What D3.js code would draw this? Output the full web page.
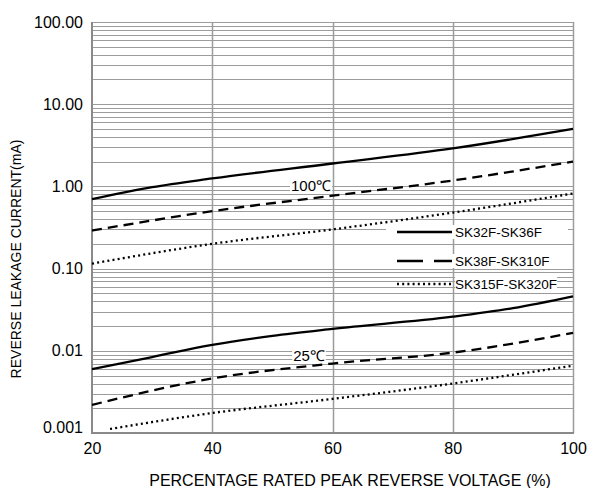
<!DOCTYPE html>
<html>
<head>
<meta charset="utf-8">
<script src="https://cdn.jsdelivr.net/npm/d3@7"></script>
<style>
  body { margin: 0; background: #fff; }
  text { font-family: "Liberation Sans", Arial, sans-serif; fill: #000; }
</style>
</head>
<body>
<svg id="chart" width="591" height="488"></svg>
<script>
// ---- data ----
var xTicks = [20, 40, 60, 80, 100];
var yTicks = [0.001, 0.01, 0.1, 1, 10, 100];
var yTickLabels = ["0.001", "0.01", "0.10", "1.00", "10.00", "100.00"];

var solid100X = [20, 30, 40, 60, 80, 100];
var solid100Y = [0.70, 0.98, 1.25, 1.9, 2.9, 5.0];
var dash100X = [20, 40, 60, 80, 100];
var dash100Y = [0.29, 0.50, 0.77, 1.18, 2.0];
var dot100X = [20, 40, 60, 80, 100];
var dot100Y = [0.115, 0.20, 0.30, 0.48, 0.82];

var solid25X = [20, 30, 40, 50, 60, 80, 90, 100];
var solid25Y = [0.006, 0.0084, 0.0118, 0.0152, 0.0185, 0.026, 0.033, 0.046];
var dash25X = [20, 40, 60, 80, 100];
var dash25Y = [0.0022, 0.0046, 0.0070, 0.0095, 0.0165];
var dot25X = [23, 40, 60, 80, 100];
var dot25Y = [0.00112, 0.00175, 0.0026, 0.0040, 0.0066];

var legendNames = ["SK32F-SK36F", "SK38F-SK310F", "SK315F-SK320F"];

(function() {

    var svg = d3.select("#chart");

    var x = d3.scaleLinear().domain([20, 100]).range([92, 573]);
    var y = d3.scaleLog().domain([0.001, 100]).range([433, 22]);

    var grid = svg.append("g");

    /* minor + major horizontal lines, every 1..9 of each decade */
    var hLines = [];
    yTicks.forEach(function(d) {
        if (d === 100) { hLines.push(d); return; }
        for (var k = 1; k < 10; k++) hLines.push(d * k);
    });
    grid.selectAll("line.h")
        .data(hLines)
        .enter().append("line")
        .attr("class", "h")
        .attr("x1", x(20)).attr("x2", x(100))
        .attr("y1", function(d) { return Math.round(y(d)) + 0.5; })
        .attr("y2", function(d) { return Math.round(y(d)) + 0.5; })
        .style("stroke", "#9c9c9c")
        .style("stroke-width", 1.2);

    grid.selectAll("line.v")
        .data(xTicks.slice(1))
        .enter().append("line")
        .attr("class", "v")
        .attr("x1", function(d) { return Math.round(x(d)) + 0.5; })
        .attr("x2", function(d) { return Math.round(x(d)) + 0.5; })
        .attr("y1", y(100)).attr("y2", y(0.001))
        .style("stroke", "#9c9c9c")
        .style("stroke-width", 1.5);

    // left and bottom frame
    grid.append("line")
        .attr("x1", x(20)).attr("x2", x(20))
        .attr("y1", y(100)).attr("y2", y(0.001) + 1)
        .style("stroke", "#8a8a8a").style("stroke-width", 2);
    grid.append("line")
        .attr("x1", x(20) - 1).attr("x2", x(100) + 1)
        .attr("y1", y(0.001)).attr("y2", y(0.001))
        .style("stroke", "#8a8a8a").style("stroke-width", 2);

    // axes (labels only)
    var yAxis = d3.axisLeft(y)
        .tickValues(yTicks)
        .tickFormat(function(d, i) { return yTickLabels[i]; })
        .tickSize(0).tickPadding(9);
    var gy = svg.append("g").attr("transform", "translate(" + x(20) + ",0)").call(yAxis);
    gy.select(".domain").remove();
    gy.selectAll("text")
        .style("font-size", "16px")
        .style("font-family", '"Liberation Sans", Arial, sans-serif')
        .attr("dy", function(d) { return d === 0.001 ? "-0.02em" : "0.32em"; });

    var xAxis = d3.axisBottom(x).tickValues(xTicks).tickSize(0).tickPadding(10);
    var gx = svg.append("g").attr("transform", "translate(0," + y(0.001) + ")").call(xAxis);
    gx.select(".domain").remove();
    gx.selectAll("text")
        .style("font-size", "16px")
        .style("font-family", '"Liberation Sans", Arial, sans-serif');

    svg.append("text")
        .attr("x", 350).attr("y", 486)
        .attr("text-anchor", "middle")
        .style("font-size", "16px")
        .text("PERCENTAGE RATED PEAK REVERSE VOLTAGE (%)");

    svg.append("text")
        .attr("transform", "translate(21,259) rotate(-90)")
        .attr("text-anchor", "middle")
        .style("font-size", "14px")
        .text("REVERSE LEAKAGE CURRENT(mA)");

    // curves
    var line = d3.line()
        .x(function(d) { return x(d[0]); })
        .y(function(d) { return y(d[1]); })
        .curve(d3.curveMonotoneX);

    var styles = [
        { dash: null },
        { dash: "10,6" },
        { dash: "2,3.2" }
    ];
    var series = [
        [solid100X, solid100Y, 0], [dash100X, dash100Y, 1], [dot100X, dot100Y, 2],
        [solid25X, solid25Y, 0], [dash25X, dash25Y, 1], [dot25X, dot25Y, 2]
    ];

    svg.append("g").selectAll("path")
        .data(series)
        .enter().append("path")
        .attr("d", function(s) { return line(d3.zip(s[0], s[1])); })
        .style("fill", "none")
        .style("stroke", "#000")
        .style("stroke-width", 2.3)
        .style("stroke-dasharray", function(s) { return styles[s[2]].dash; });

    // temperature labels with white backing
    function boxedLabel(txt, cx, cy, size) {
        var g = svg.append("g");
        var r = g.append("rect").style("fill", "#fff");
        var t = g.append("text")
            .attr("x", cx).attr("y", cy)
            .attr("dy", "0.35em")
            .attr("text-anchor", "middle")
            .style("font-size", size + "px")
            .text(txt);
        var b = t.node().getBBox();
        r.attr("x", b.x - 1).attr("y", cy - 7).attr("width", b.width + 2).attr("height", 14);
    }
    boxedLabel("100\u2103", 311, 186, 15);
    boxedLabel("25\u2103", 309, 356, 15);

    // legend
    var legY = [232, 261, 284];
    var legDash = [null, "26,11", "2,3.2"];
    var leg = svg.append("g");
    legY.forEach(function(ly, i) {
        if (i < 2) {
            leg.append("rect")
                .attr("x", 386).attr("y", ly - 7)
                .attr("width", 182).attr("height", 14)
                .style("fill", "#fff");
        }
        var t = leg.append("text")
            .attr("x", 455).attr("y", ly)
            .attr("dy", "0.35em")
            .style("font-size", "13.5px")
            .text(legendNames[i]);
        if (i === 2) {
            var b = t.node().getBBox();
            leg.insert("rect", "text:last-child")
                .attr("x", b.x).attr("y", ly - 7)
                .attr("width", b.width).attr("height", 14)
                .style("fill", "#fff");
        }
        leg.append("line")
            .attr("x1", 397).attr("x2", 452)
            .attr("y1", ly).attr("y2", ly)
            .style("stroke", "#000")
            .style("stroke-width", 2.6)
            .style("stroke-dasharray", legDash[i]);
    });

})();
</script>
</body>
</html>
